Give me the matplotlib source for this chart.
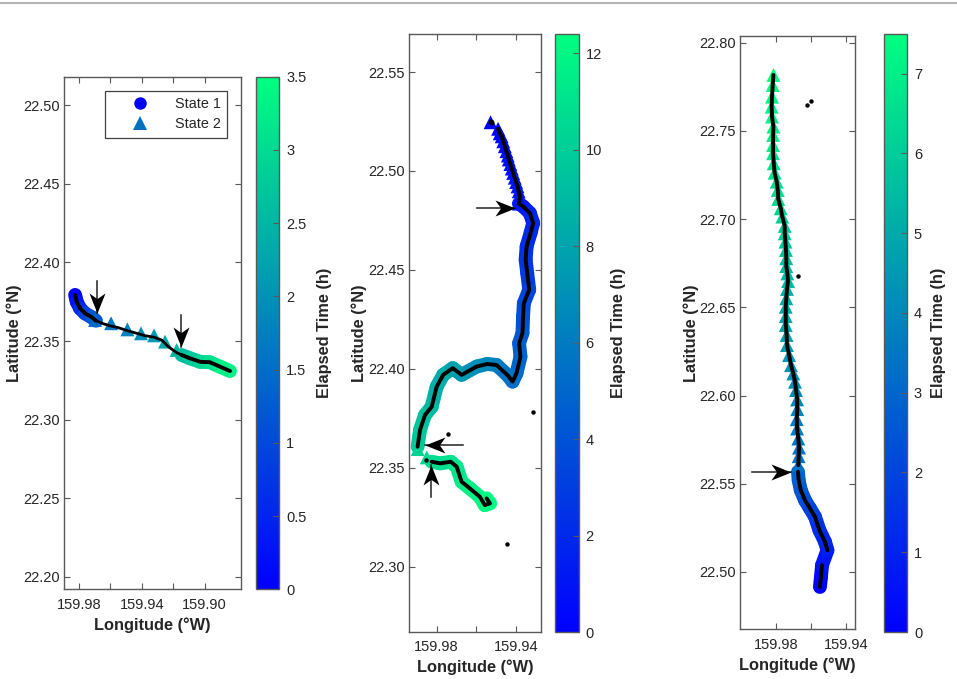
import numpy as np
import matplotlib
matplotlib.use('Agg')
import matplotlib.pyplot as plt
from matplotlib.collections import LineCollection
from matplotlib.colors import Normalize
from matplotlib.cm import ScalarMappable
from matplotlib.lines import Line2D
from matplotlib.path import Path

plt.rcParams['font.family'] = ['Liberation Sans', 'DejaVu Sans']

# panel 1
lon1a = [159.9825, 159.9815, 159.9794, 159.9762, 159.9719, 159.9692]
lat1a = [22.3793, 22.3750, 22.3708, 22.3676, 22.3651, 22.3629]
t1a = [0.0, 0.3, 0.6, 0.9, 1.2, 1.4]
lon1m = [159.9692, 159.9655, 159.9603, 159.9550, 159.9492, 159.9432, 159.9380, 159.9322, 159.9273, 159.9231, 159.9178, 159.9146]
lat1m = [22.3629, 22.3613, 22.3597, 22.3585, 22.3566, 22.3549, 22.3534, 22.3524, 22.3506, 22.3464, 22.3426, 22.3411]
lon1t = [159.9698, 159.9596, 159.9492, 159.9405, 159.9322, 159.9252, 159.9178]
lat1t = [22.3634, 22.3613, 22.3574, 22.3549, 22.3536, 22.3496, 22.3443]
t1t = [1.45, 1.65, 1.8, 1.95, 2.1, 2.3, 2.5]
lon1b = [159.9146, 159.9093, 159.9029, 159.8966, 159.8902, 159.8838]
lat1b = [22.3411, 22.3390, 22.3368, 22.3365, 22.3337, 22.3309]
t1b = [2.6, 2.75, 2.95, 3.1, 3.3, 3.5]

# panel 2
lon2t = [159.9528, 159.9490, 159.9482, 159.9472, 159.9464, 159.9456, 159.9448, 159.9441, 159.9436, 159.9428,
         159.9421, 159.9414, 159.9406, 159.9399, 159.9392, 159.9386, 159.9380, 159.9382, 159.9385]
lat2t = [22.5246, 22.5213, 22.5190, 22.5175, 22.5150, 22.5125, 22.5100, 22.5078, 22.5058, 22.5035,
         22.5012, 22.4990, 22.4966, 22.4944, 22.4922, 22.4897, 22.4872, 22.4850, 22.4835]
t2t = [0.0, 0.1, 0.2, 0.3, 0.4, 0.5, 0.6, 0.65, 0.7, 0.75, 0.8, 0.85, 0.9, 0.95, 1.0, 1.05, 1.1, 1.15, 1.2]
lon2a = [159.9385, 159.9364, 159.9330, 159.9313, 159.9326, 159.9346, 159.9351, 159.9343, 159.9333, 159.9360,
         159.9364, 159.9367, 159.9384, 159.9377, 159.9397, 159.9417, 159.9439, 159.9498, 159.9545, 159.9598,
         159.9674, 159.9719, 159.9767, 159.9800, 159.9825, 159.9859, 159.9884, 159.9896]
lat2a = [22.4835, 22.4821, 22.4788, 22.4737, 22.4687, 22.4619, 22.4552, 22.4484, 22.4400, 22.4332,
         22.4265, 22.4181, 22.4130, 22.4062, 22.3978, 22.3936, 22.3965, 22.4020, 22.4025, 22.4012,
         22.3970, 22.4004, 22.3970, 22.3910, 22.3809, 22.3767, 22.3691, 22.3607]
t2a = [1.2, 1.4, 1.6, 1.8, 2.0, 2.3, 2.6, 2.9, 3.3, 3.6, 3.9, 4.3, 4.6, 4.9, 5.2, 5.4, 5.7, 6.2, 6.6, 7.0,
       7.5, 7.9, 8.3, 8.6, 9.0, 9.4, 9.8, 10.1]
lon2tb = [159.9896, 159.9850]
lat2tb = [22.3595, 22.3553]
t2tb = [10.2, 10.5]
lon2b = [159.9825, 159.9783, 159.9729, 159.9699, 159.9674, 159.9632, 159.9582, 159.9557, 159.9531, 159.9548]
lat2b = [22.3531, 22.3523, 22.3531, 22.3506, 22.3430, 22.3396, 22.3354, 22.3312, 22.3321, 22.3346]
t2b = [10.6, 10.8, 11.0, 11.2, 11.4, 11.6, 11.8, 12.0, 12.2, 12.4]
stray2_lon = [159.9745, 159.9313, 159.9447, 159.9855]
stray2_lat = [22.3670, 22.3784, 22.3116, 22.3540]

# panel 3
lon3a = [159.9548, 159.9542, 159.9536, 159.9505, 159.9519, 159.9551, 159.9576, 159.9605, 159.9634, 159.9658, 159.9670, 159.9674]
lat3a = [22.4915, 22.4972, 22.5038, 22.5123, 22.5171, 22.5237, 22.5312, 22.5360, 22.5407, 22.5464, 22.5520, 22.5568]
t3a = [0.0, 0.3, 0.6, 0.9, 1.1, 1.4, 1.7, 2.0, 2.3, 2.6, 2.9, 3.2]
lon3t = [159.9672, 159.9670, 159.9668, 159.9672, 159.9679, 159.9681, 159.9678, 159.9679, 159.9685, 159.9691,
         159.9701, 159.9714, 159.9725, 159.9737, 159.9739, 159.9744, 159.9744, 159.9744, 159.9741, 159.9737,
         159.9731, 159.9735, 159.9741, 159.9741, 159.9743, 159.9746, 159.9750, 159.9750, 159.9764, 159.9773,
         159.9787, 159.9790, 159.9796, 159.9808, 159.9813, 159.9817, 159.9817, 159.9817, 159.9815, 159.9823,
         159.9825, 159.9823, 159.9819, 159.9815]
lat3t = [22.5605, 22.5656, 22.5705, 22.5756, 22.5813, 22.5866, 22.5923, 22.5978, 22.6031, 22.6078,
         22.6125, 22.6172, 22.6229, 22.6286, 22.6343, 22.6400, 22.6450, 22.6503, 22.6551, 22.6604,
         22.6649, 22.6692, 22.6734, 22.6778, 22.6825, 22.6872, 22.6919, 22.6961, 22.7014, 22.7061,
         22.7114, 22.7165, 22.7212, 22.7263, 22.7316, 22.7373, 22.7420, 22.7477, 22.7524, 22.7581,
         22.7637, 22.7694, 22.7760, 22.7817]
t3t = [3.3, 3.4, 3.5, 3.6, 3.7, 3.8, 3.9, 4.0, 4.1, 4.2, 4.3, 4.4, 4.5, 4.6, 4.7, 4.8, 4.9, 5.0, 5.1, 5.2,
       5.3, 5.4, 5.5, 5.6, 5.7, 5.8, 5.9, 6.0, 6.1, 6.2, 6.3, 6.4, 6.5, 6.6, 6.7, 6.8, 6.9, 7.0, 7.05, 7.1,
       7.2, 7.3, 7.4, 7.5]
stray3_lon = [159.9623, 159.9602, 159.9676]
stray3_lat = [22.7645, 22.7669, 22.6677]

# arrows: start lon, start lat, tip lon, tip lat, heading
arrows1 = [(159.9685, 22.3884, 159.9685, 22.3676, 270), (159.9152, 22.3665, 159.9152, 22.3460, 270)]
arrows2 = [(159.9598, 22.4811, 159.9405, 22.4811, 0), (159.9666, 22.3617, 159.9859, 22.3617, 180),
           (159.9829, 22.3351, 159.9829, 22.3514, 90)]
arrows3 = [(159.9940, 22.5568, 159.9716, 22.5568, 0)]

lat_ticks1 = [22.20, 22.25, 22.30, 22.35, 22.40, 22.45, 22.50]
lat_ticks2 = [22.30, 22.35, 22.40, 22.45, 22.50, 22.55]
lat_ticks3 = [22.50, 22.55, 22.60, 22.65, 22.70, 22.75, 22.80]
lon_ticks1 = [159.98, 159.96, 159.94, 159.92, 159.90]
lon_ticks2 = [159.98, 159.96, 159.94]
lon_ticks3 = [159.98, 159.96, 159.94]
lon_labels1 = ['159.98', '', '159.94', '', '159.90']
lon_labels2 = ['159.98', '', '159.94']
lon_labels3 = ['159.98', '', '159.94']
cb_ticks1 = [0, 0.5, 1, 1.5, 2, 2.5, 3, 3.5]
cb_labels1 = ['0', '0.5', '1', '1.5', '2', '2.5', '3', '3.5']
cb_ticks2 = [0, 2, 4, 6, 8, 10, 12]
cb_ticks3 = [0, 1, 2, 3, 4, 5, 6, 7]

W, H = 957, 679
GREY = '#595959'
TXT = '#262626'
STATE2 = '#0072BD'


def px_axes(x0, x1, y0, y1):
    return fig.add_axes([x0 / W, 1 - y1 / H, (x1 - x0) / W, (y1 - y0) / H])


def halo(ax, lon, lat, t, norm):
    pts = np.column_stack([lon, lat])
    segs = np.stack([pts[:-1], pts[1:]], axis=1)
    lc = LineCollection(segs, cmap='winter', norm=norm, linewidths=10, capstyle='round', joinstyle='round', zorder=2)
    lc.set_array(np.array(t[:-1]))
    ax.add_collection(lc)


def tris(ax, lon, lat, t, norm):
    ax.scatter(lon, lat, c=t, cmap='winter', norm=norm, marker='^', s=100, linewidths=0, zorder=3)


def track(ax, lon, lat, lw=2.8):
    ax.plot(lon, lat, color='k', lw=lw, solid_capstyle='round', solid_joinstyle='round', zorder=4)


def arrow(ax, a):
    ax.plot([a[0], a[2]], [a[1], a[3]], color='#222222', lw=1.1, zorder=5)
    ang = np.deg2rad(a[4])
    base = np.array([[0, 0], [-1, 0.4], [-0.72, 0], [-1, -0.4], [0, 0]])
    rot = np.array([[np.cos(ang), -np.sin(ang)], [np.sin(ang), np.cos(ang)]])
    verts = base @ rot.T
    head = Path(verts, [Path.MOVETO, Path.LINETO, Path.LINETO, Path.LINETO, Path.CLOSEPOLY])
    ax.plot([a[2]], [a[3]], marker=head, ms=28.8, color='k', mew=0, ls='none', zorder=5)


def style(ax, xlim, ylim, xt, xl, yt):
    ax.set_xlim(*xlim)
    ax.set_ylim(*ylim)
    ax.set_xticks(xt)
    ax.set_xticklabels(xl)
    ax.set_yticks(yt)
    ax.set_yticklabels(['%.2f' % v for v in yt])
    ax.tick_params(direction='in', top=True, right=True, length=4, width=0.8, color=GREY,
                   labelsize=10.5, labelcolor=TXT)
    ax.tick_params(axis='x', pad=6)
    ax.tick_params(axis='y', pad=3)
    for s in ax.spines.values():
        s.set_color(GREY)
        s.set_linewidth(1.0)
    ax.set_xlabel('Longitude (°W)', fontsize=11.8, fontweight='bold', color=TXT, labelpad=3)
    ax.set_ylabel('Latitude (°N)', fontsize=11.8, fontweight='bold', color=TXT)


def cbar(x0, x1, y0, y1, vmax, ticks, labels, xlab):
    cax = px_axes(x0, x1, y0, y1)
    sm = ScalarMappable(norm=Normalize(0, vmax), cmap='winter')
    cb = fig.colorbar(sm, cax=cax)
    cb.set_ticks(ticks)
    cb.set_ticklabels(labels)
    cax.tick_params(direction='in', length=4, width=0.8, color=GREY, labelsize=10.5, labelcolor=TXT, pad=5)
    cb.outline.set_edgecolor(GREY)
    cb.outline.set_linewidth(1.0)
    fig.text(xlab / W, 1 - (y0 + y1) / 2 / H, 'Elapsed Time (h)', rotation=90, ha='center', va='center',
             fontsize=11.8, fontweight='bold', color=TXT)


fig = plt.figure(figsize=(W / 100, H / 100), dpi=100)
fig.add_artist(Line2D([0, 1], [1 - 2.7 / H, 1 - 2.7 / H], color='#b4b4b4', lw=1.5))

# left panel
ax1 = px_axes(64, 241.3, 76.7, 589.3)
norm1 = Normalize(0, 3.5)
halo(ax1, lon1a, lat1a, t1a, norm1)
halo(ax1, lon1b, lat1b, t1b, norm1)
tris(ax1, lon1t, lat1t, t1t, norm1)
track(ax1, lon1a, lat1a)
track(ax1, lon1m, lat1m, lw=2.0)
track(ax1, lon1b, lat1b)
for a in arrows1:
    arrow(ax1, a)
style(ax1, (159.9896, 159.8766), (22.1921, 22.5181), lon_ticks1, lon_labels1, lat_ticks1)
ax1.yaxis.set_label_coords((16 - 64 + 6) / 177.3, 0.5)
ax1.xaxis.set_label_coords(0.5, -(617 - 589.3) / 512.6)
hs = [Line2D([], [], marker='o', color='#0000ff', ms=9, ls='none', mew=0),
      Line2D([], [], marker='^', color=STATE2, ms=10, ls='none', mew=0)]
leg = ax1.legend(hs, ['State 1', 'State 2'], loc='upper left',
                 bbox_to_anchor=((105.3 - 64) / 177.3, 1 - (91 - 76.7) / 512.6), borderaxespad=0,
                 fontsize=10.4, fancybox=False, framealpha=1, edgecolor='#404040',
                 handlelength=3.95, handletextpad=0.42, borderpad=0.45, labelspacing=0.4)
leg.get_frame().set_linewidth(0.9)
for tx in leg.get_texts():
    tx.set_color(TXT)
cbar(256, 279.3, 76.7, 589.3, 3.5, cb_ticks1, cb_labels1, 324)

# middle panel
ax2 = px_axes(409.3, 541.3, 34, 632)
norm2 = Normalize(0, 12.4)
tris(ax2, lon2t, lat2t, t2t, norm2)
halo(ax2, lon2a, lat2a, t2a, norm2)
tris(ax2, lon2tb, lat2tb, t2tb, norm2)
halo(ax2, lon2b, lat2b, t2b, norm2)
track(ax2, lon2t[1:], lat2t[1:])
track(ax2, lon2a, lat2a)
track(ax2, lon2b, lat2b)
ax2.plot(lon2t[:1], lat2t[:1], 'o', color='k', ms=3.2, zorder=4)
ax2.plot(stray2_lon, stray2_lat, 'o', color='k', ms=3.2, mew=0, zorder=4)
for a in arrows2:
    arrow(ax2, a)
style(ax2, (159.9938, 159.9272), (22.2671, 22.5692), lon_ticks2, lon_labels2, lat_ticks2)
ax2.yaxis.set_label_coords((361 - 409.3 + 6) / 132, 0.5)
ax2.xaxis.set_label_coords(0.5, -(659 - 632) / 598)
cbar(555.3, 578.7, 34, 632, 12.4, cb_ticks2, [str(v) for v in cb_ticks2], 619)

# right panel
ax3 = px_axes(740.3, 855.3, 36.3, 629.3)
norm3 = Normalize(0, 7.5)
tris(ax3, lon3t, lat3t, t3t, norm3)
halo(ax3, lon3a, lat3a, t3a, norm3)
track(ax3, lon3a[:3], lat3a[:3])
track(ax3, lon3a[3:], lat3a[3:])
track(ax3, lon3t, lat3t)
ax3.plot(stray3_lon, stray3_lat, 'o', color='k', ms=3.2, mew=0, zorder=4)
for a in arrows3:
    arrow(ax3, a)
style(ax3, (160.0005, 159.9345), (22.4675, 22.8036), lon_ticks3, lon_labels3, lat_ticks3)
ax3.yaxis.set_label_coords((693 - 740.3 + 6) / 115, 0.5)
ax3.xaxis.set_label_coords(0.5, -(657 - 629.3) / 593)
cbar(883.7, 907, 33.7, 632, 7.5, cb_ticks3, [str(v) for v in cb_ticks3], 939)

fig.savefig('out.png', dpi=100)
